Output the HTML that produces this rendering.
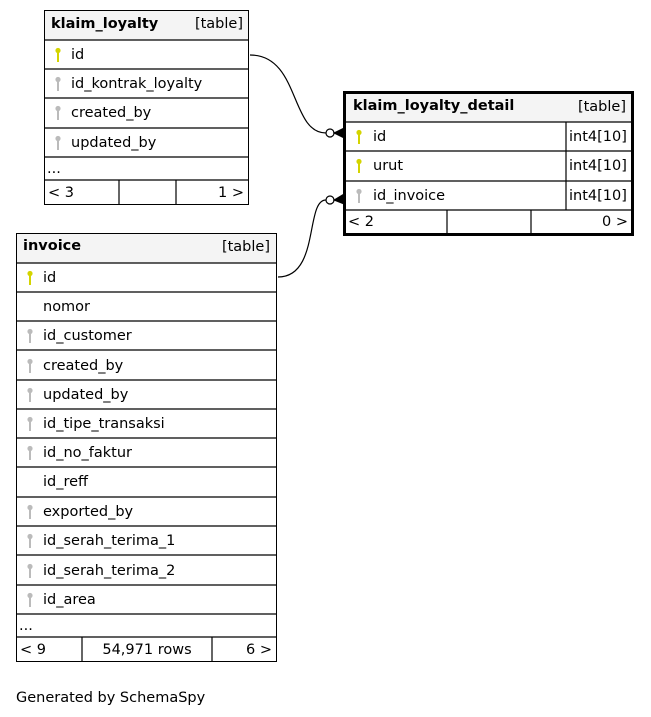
<!DOCTYPE html>
<html><head><meta charset="utf-8"><style>
html,body{margin:0;padding:0;background:#fff;width:651px;height:717px;overflow:hidden}
svg{display:block}
text{font-family:"DejaVu Sans","Liberation Sans",sans-serif;font-size:14.5px;fill:#000}
.b{font-weight:bold}
</style></head><body>
<svg width="651" height="717" viewBox="0 0 651 717" xmlns="http://www.w3.org/2000/svg">
<defs>
<g id="kp"><circle cx="0" cy="-3.5" r="2.6" fill="#d4d400"/><rect x="-1" y="-2" width="2" height="10" fill="#d4d400"/></g>
<g id="kf"><circle cx="0" cy="-3.5" r="2.6" fill="#bbb"/><rect x="-1" y="-2" width="2" height="10" fill="#bbb"/></g>
</defs>
<g fill="none" stroke="#000" stroke-width="1.2">
<path d="M250,55 C300,55 290,133 326,133"/>
<path d="M278,277 C320,277 305,200 326,200"/>
</g>
<g stroke="#000" fill="#fff" stroke-width="1.2">
<circle cx="330" cy="133" r="4"/>
<circle cx="330" cy="200" r="4"/>
</g>
<g fill="#000" stroke="#000" stroke-width="1">
<path d="M334,133 L344,128 L344,138 Z"/>
<path d="M334,200 L344,194 L344,204 Z"/>
</g>

<!-- klaim_loyalty -->
<rect x="44.5" y="10.5" width="204" height="194" fill="#fff" stroke="#000"/>
<rect x="45" y="11" width="203" height="29" fill="#f4f4f4"/>
<g stroke="#000" stroke-width="1.2">
<line x1="44" y1="40" x2="249" y2="40"/><line x1="44" y1="69" x2="249" y2="69"/>
<line x1="44" y1="98" x2="249" y2="98"/><line x1="44" y1="128" x2="249" y2="128"/>
<line x1="44" y1="157" x2="249" y2="157"/><line x1="44" y1="180" x2="249" y2="180"/>
<line x1="119" y1="180" x2="119" y2="205"/><line x1="176" y1="180" x2="176" y2="205"/>
</g>
<text x="51" y="28" class="b">klaim_loyalty</text><text x="243" y="28" text-anchor="end">[table]</text>
<use href="#kp" x="58" y="54"/><text x="71" y="59">id</text>
<use href="#kf" x="58" y="83"/><text x="71" y="88">id_kontrak_loyalty</text>
<use href="#kf" x="58" y="112"/><text x="71" y="117">created_by</text>
<use href="#kf" x="58" y="142"/><text x="71" y="147">updated_by</text>
<text x="47" y="173">...</text>
<text x="48" y="197">&lt; 3</text><text x="244" y="197" text-anchor="end">1 &gt;</text>

<!-- klaim_loyalty_detail -->
<rect x="344.5" y="92.5" width="288" height="142" fill="#fff" stroke="#000" stroke-width="3"/>
<rect x="346" y="94" width="285" height="28" fill="#f4f4f4"/>
<g stroke="#000" stroke-width="1.2">
<line x1="345" y1="122" x2="632" y2="122"/><line x1="345" y1="151" x2="632" y2="151"/>
<line x1="345" y1="181" x2="632" y2="181"/><line x1="345" y1="210" x2="632" y2="210"/>
<line x1="566" y1="122" x2="566" y2="210"/>
<line x1="447" y1="210" x2="447" y2="234"/><line x1="531" y1="210" x2="531" y2="234"/>
</g>
<text x="353" y="110" class="b">klaim_loyalty_detail</text><text x="626" y="111" text-anchor="end">[table]</text>
<use href="#kp" x="359" y="136"/><text x="373" y="141">id</text><text x="569" y="141">int4[10]</text>
<use href="#kp" x="359" y="165"/><text x="373" y="170">urut</text><text x="569" y="170">int4[10]</text>
<use href="#kf" x="359" y="195"/><text x="373" y="200">id_invoice</text><text x="569" y="200">int4[10]</text>
<text x="348" y="226">&lt; 2</text><text x="628" y="226" text-anchor="end">0 &gt;</text>

<!-- invoice -->
<rect x="16.5" y="233.5" width="260" height="428" fill="#fff" stroke="#000"/>
<rect x="17" y="234" width="259" height="29" fill="#f4f4f4"/>
<g stroke="#000" stroke-width="1.2">
<line x1="16" y1="263" x2="277" y2="263"/><line x1="16" y1="292" x2="277" y2="292"/>
<line x1="16" y1="321" x2="277" y2="321"/><line x1="16" y1="350" x2="277" y2="350"/>
<line x1="16" y1="380" x2="277" y2="380"/><line x1="16" y1="409" x2="277" y2="409"/>
<line x1="16" y1="438" x2="277" y2="438"/><line x1="16" y1="467" x2="277" y2="467"/>
<line x1="16" y1="497" x2="277" y2="497"/><line x1="16" y1="526" x2="277" y2="526"/>
<line x1="16" y1="555" x2="277" y2="555"/><line x1="16" y1="585" x2="277" y2="585"/>
<line x1="16" y1="614" x2="277" y2="614"/><line x1="16" y1="637" x2="277" y2="637"/>
<line x1="82" y1="637" x2="82" y2="662"/><line x1="212" y1="637" x2="212" y2="662"/>
</g>
<text x="23" y="250" class="b">invoice</text><text x="270" y="251" text-anchor="end">[table]</text>
<use href="#kp" x="30" y="277"/><text x="43" y="282">id</text>
<text x="43" y="311">nomor</text>
<use href="#kf" x="30" y="335"/><text x="43" y="340">id_customer</text>
<use href="#kf" x="30" y="365"/><text x="43" y="370">created_by</text>
<use href="#kf" x="30" y="394"/><text x="43" y="399">updated_by</text>
<use href="#kf" x="30" y="423"/><text x="43" y="428">id_tipe_transaksi</text>
<use href="#kf" x="30" y="452"/><text x="43" y="457">id_no_faktur</text>
<text x="43" y="486">id_reff</text>
<use href="#kf" x="30" y="511"/><text x="43" y="516">exported_by</text>
<use href="#kf" x="30" y="540"/><text x="43" y="545">id_serah_terima_1</text>
<use href="#kf" x="30" y="570"/><text x="43" y="575">id_serah_terima_2</text>
<use href="#kf" x="30" y="599"/><text x="43" y="604">id_area</text>
<text x="19" y="630">...</text>
<text x="20" y="654">&lt; 9</text><text x="147" y="654" text-anchor="middle">54,971 rows</text><text x="272" y="654" text-anchor="end">6 &gt;</text>

<text x="16" y="702">Generated by SchemaSpy</text>
</svg>
</body></html>
